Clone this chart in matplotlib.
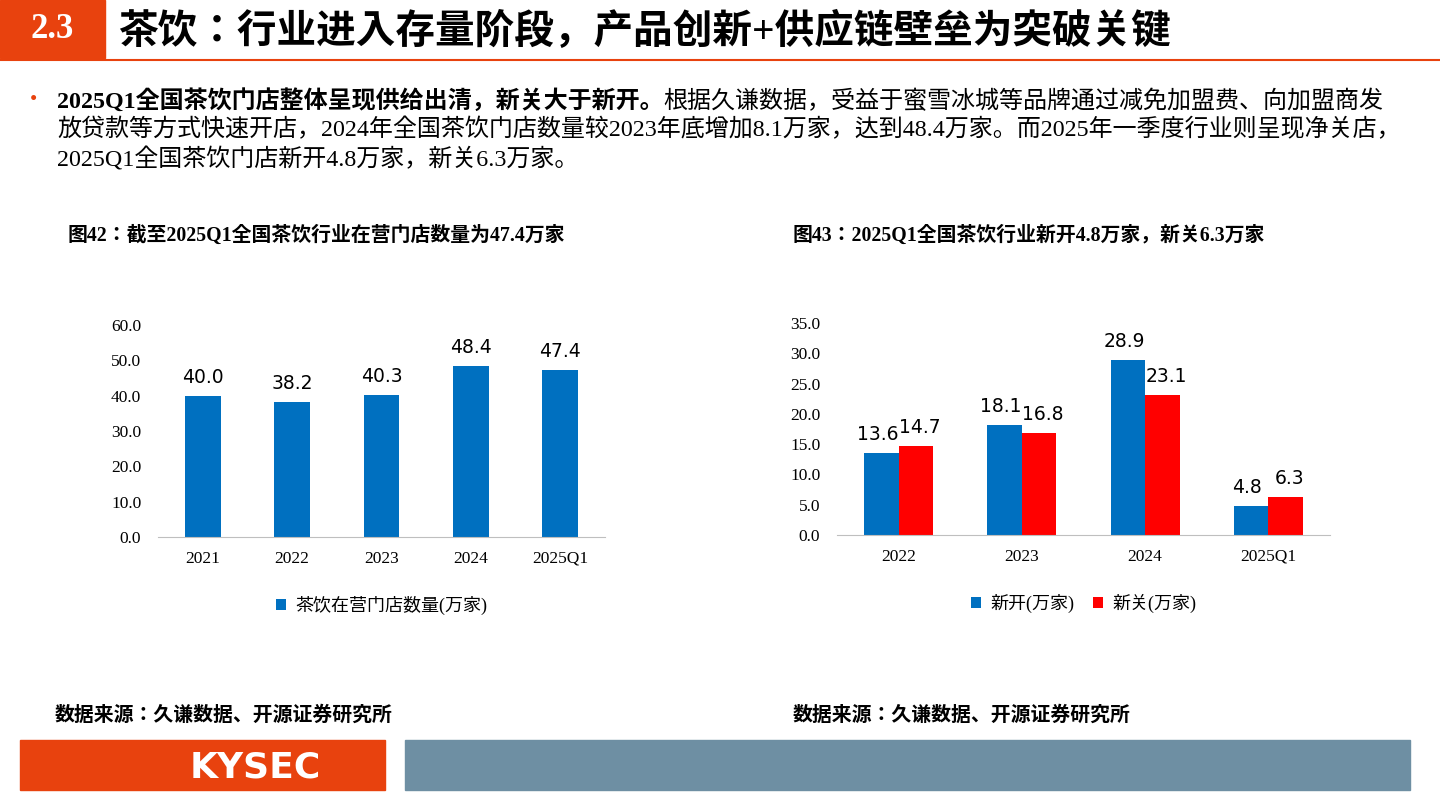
import numpy as np
import matplotlib.pyplot as plt
from matplotlib.patches import Rectangle

W, H = 1440, 810
CJK = ["Liberation Serif", "Noto Sans CJK SC", "Noto Sans CJK JP", "Noto Sans CJK TC", "DejaVu Sans"]
SERIF = "Liberation Serif"
plt.rcParams["font.family"] = CJK

years_left = ["2021", "2022", "2023", "2024", "2025Q1"]
stores = [40.0, 38.2, 40.3, 48.4, 47.4]

years_right = ["2022", "2023", "2024", "2025Q1"]
opened = [13.6, 18.1, 28.9, 4.8]
closed = [14.7, 16.8, 23.1, 6.3]

BLUE = "#0070C0"
RED = "#FF0000"
ORANGE = "#E8420E"


def px_axes(fig, x0, y0, x1, y1):
    # pixel box (top-left origin) -> figure fraction
    return fig.add_axes([x0 / W, 1 - y1 / H, (x1 - x0) / W, (y1 - y0) / H])


fig = plt.figure(figsize=(14.4, 8.1), dpi=100)
renderer = fig.canvas.get_renderer()

# header
fig.patches.append(Rectangle((0, 1 - 58 / H), 105 / W, 58 / H, transform=fig.transFigure, color=ORANGE))
fig.text(52 / W, 1 - 30 / H, "2.3", color="white", fontsize=25, fontweight="bold",
         family=SERIF, ha="center", va="center")
fig.text(118 / W, 1 - 32 / H, "茶饮：行业进入存量阶段，产品创新+供应链壁垒为突破关键",
         fontsize=28.5, fontweight="bold", va="center")
fig.lines.append(plt.Line2D([0, 1], [1 - 60 / H] * 2, transform=fig.transFigure, color=ORANGE, lw=1.5))

# bullet text
fig.text(30 / W, 1 - 101 / H, "•", color=ORANGE, fontsize=15, va="center")
t = fig.text(57 / W, 1 - 101 / H, "2025Q1全国茶饮门店整体呈现供给出清，新关大于新开。", fontsize=17.3,
             fontweight="bold", va="center")
bb = t.get_window_extent(renderer)
fig.text(bb.x1 / W, 1 - 101 / H, "根据久谦数据，受益于蜜雪冰城等品牌通过减免加盟费、向加盟商发",
         fontsize=17.3, va="center")
fig.text(57 / W, 1 - 130 / H, "放贷款等方式快速开店，2024年全国茶饮门店数量较2023年底增加8.1万家，达到48.4万家。而2025年一季度行业则呈现净关店，",
         fontsize=17.3, va="center")
fig.text(57 / W, 1 - 159 / H, "2025Q1全国茶饮门店新开4.8万家，新关6.3万家。",
         fontsize=17.3, va="center")

# chart titles
fig.text(68 / W, 1 - 236 / H, "图42：截至2025Q1全国茶饮行业在营门店数量为47.4万家",
         fontsize=14.3, fontweight="bold", va="center")
fig.text(793 / W, 1 - 236 / H, "图43：2025Q1全国茶饮行业新开4.8万家，新关6.3万家",
         fontsize=14.3, fontweight="bold", va="center")


def style(ax, ymax, step):
    ax.set_ylim(0, ymax)
    ticks = np.arange(0, ymax + 0.01, step)
    ax.set_yticks(ticks)
    ax.set_yticklabels([f"{v:.1f}" for v in ticks], family=SERIF, fontsize=12.5)
    for s in ["top", "right", "left"]:
        ax.spines[s].set_visible(False)
    ax.spines["bottom"].set_color("#BFBFBF")
    ax.tick_params(axis="y", length=0, pad=12)
    ax.tick_params(axis="x", length=0, pad=10)
    for lab in ax.get_xticklabels():
        lab.set_family(SERIF)
        lab.set_fontsize(12.5)


# left chart
ax1 = px_axes(fig, 158, 325, 605, 537)
x = np.arange(len(years_left))
ax1.bar(x, stores, width=0.4, color=BLUE, label="茶饮在营门店数量(万家)")
ax1.set_xlim(-0.5, len(years_left) - 0.5)
ax1.set_xticks(x, years_left)
style(ax1, 60, 10)
for xi, v in zip(x, stores):
    ax1.text(xi, v + 2.5, f"{v:.1f}", ha="center", va="bottom", fontsize=13.5, family="DejaVu Sans")
ax1.legend(loc="upper center", bbox_to_anchor=(0.5, -0.2), frameon=False,
           prop={"size": 13}, handlelength=0.6, handleheight=0.6, handletextpad=0.5)

# right chart
ax2 = px_axes(fig, 837, 323, 1330, 535)
x2 = np.arange(len(years_right))
w = 0.28
ax2.bar(x2 - w / 2, opened, width=w, color=BLUE, label="新开(万家)")
ax2.bar(x2 + w / 2, closed, width=w, color=RED, label="新关(万家)")
ax2.set_xlim(-0.5, len(years_right) - 0.5)
ax2.set_xticks(x2, years_right)
style(ax2, 35, 5)
for xi, v in zip(x2 - w / 2, opened):
    ax2.text(xi - 0.03, v + 1.5, f"{v:.1f}", ha="center", va="bottom", fontsize=13.5, family="DejaVu Sans")
for xi, v in zip(x2 + w / 2, closed):
    ax2.text(xi + 0.03, v + 1.5, f"{v:.1f}", ha="center", va="bottom", fontsize=13.5, family="DejaVu Sans")
ax2.legend(loc="upper center", bbox_to_anchor=(0.5, -0.2), frameon=False, ncol=2,
           prop={"size": 13}, handlelength=0.6, handleheight=0.6, handletextpad=0.5, columnspacing=1.0)

# sources
fig.text(55 / W, 1 - 716 / H, "数据来源：久谦数据、开源证券研究所", fontsize=14.3, fontweight="bold", va="center")
fig.text(793 / W, 1 - 716 / H, "数据来源：久谦数据、开源证券研究所", fontsize=14.3, fontweight="bold", va="center")

# footer
fig.patches.append(Rectangle((20 / W, 1 - 790 / H), 365 / W, 50 / H, transform=fig.transFigure, color=ORANGE))
fig.patches.append(Rectangle((405 / W, 1 - 790 / H), 1005 / W, 50 / H, transform=fig.transFigure, color="#6E8FA3"))
fig.text(255 / W, 1 - 767 / H, "KYSEC", color="white", fontsize=26, fontweight="bold",
         family="DejaVu Sans", ha="center", va="center")

fig.savefig("out.png", dpi=100)
